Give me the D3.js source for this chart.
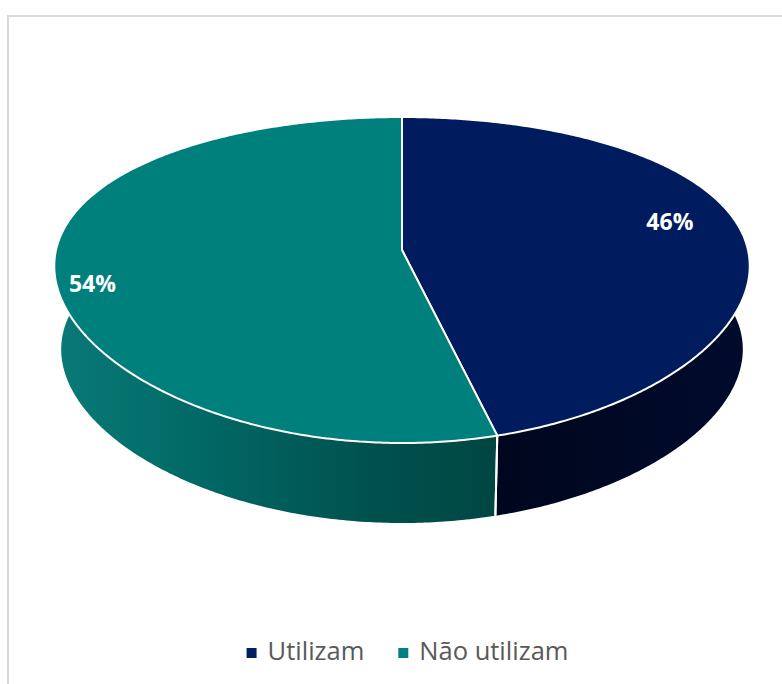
<!DOCTYPE html>
<html><head><meta charset="utf-8">
<script src="https://cdn.jsdelivr.net/npm/d3@7"></script>
<style>html,body{margin:0;padding:0;background:#fff;overflow:hidden;}</style>
</head><body>
<svg id="c" width="782" height="684"></svg>
<script>
// ---- data ----
const categories = ["Utilizam", "Não utilizam"];
const values = [46, 54];
const labelTexts = ["46%", "54%"];
const topColors = ["#001c5e", "#00807c"];
const legendColors = ["#002060", "#008080"];
const sideStops = [
  [["0", "#00061d"], ["1", "#000b2c"]],
  [["0", "#0a7a76"], ["0.3", "#016a67"], ["0.7", "#00524f"], ["1", "#004643"]]
];

const svg = d3.select("#c");
svg.append("rect").attr("x", 8).attr("y", 16).attr("width", 800).attr("height", 700)
  .attr("fill", "#fff").attr("stroke", "#d9d9d9").attr("stroke-width", 2);

// ---- 3D projection (perspective-like mapping of a unit disc) ----
const cx = 402;
const levels = [
  { cy: 280, rx: 352, ry: 163 },  // top face
  { cy: 363, rx: 345, ry: 160 }   // bottom rim
];
const a = -30 / 163, b = -0.1, sq = Math.sqrt(1 - a * a);
function proj(theta, r, level) {
  const u = r * Math.sin(theta), v = -r * Math.cos(theta);
  const up = u * sq / (1 + b * v), vp = (v + a) / (1 + a * v);
  const L = levels[level];
  return [cx + L.rx * up, L.cy + L.ry * vp];
}

const arcs = d3.pie().sort(null).value(d => d)(values);
const line = d3.line();
const defs = svg.append("defs");

function rim(s, e, level) {
  const n = Math.max(2, Math.ceil((e - s) / 0.01));
  return d3.range(n + 1).map(i => proj(s + (e - s) * i / n, 1, level));
}

// side gradients
arcs.forEach((d, i) => {
  const pts = rim(d.startAngle, d.endAngle, 0).concat(rim(d.startAngle, d.endAngle, 1));
  const front = pts.filter(p => p[1] > 250);
  const x1 = d3.min(front, p => p[0]), x2 = d3.max(front, p => p[0]);
  const g = defs.append("linearGradient").attr("id", "side" + i)
    .attr("gradientUnits", "userSpaceOnUse")
    .attr("x1", x1).attr("x2", x2).attr("y1", 0).attr("y2", 0);
  sideStops[i].forEach(s => g.append("stop").attr("offset", s[0]).attr("stop-color", s[1]));
});

// sides
arcs.forEach((d, i) => {
  const pts = rim(d.startAngle, d.endAngle, 0).concat(rim(d.startAngle, d.endAngle, 1).reverse());
  svg.append("path").attr("d", line(pts) + "Z").attr("fill", `url(#side${i})`);
});
// side seams (front only)
arcs.forEach(d => {
  [d.startAngle, d.endAngle].forEach(t => {
    if (-Math.cos(t) > 0.05) {
      const p0 = proj(t, 1, 0), p1 = proj(t, 1, 1);
      svg.append("line").attr("x1", p0[0]).attr("y1", p0[1]).attr("x2", p1[0]).attr("y2", p1[1])
        .attr("stroke", "#fff").attr("stroke-width", 2);
    }
  });
});
// top faces
arcs.forEach((d, i) => {
  const pts = [proj(0, 0, 0)].concat(rim(d.startAngle, d.endAngle, 0));
  svg.append("path").attr("d", line(pts) + "Z").attr("fill", topColors[i])
    .attr("stroke", "#fff").attr("stroke-width", 2).attr("stroke-linejoin", "round");
});

// data labels
const labelR = [0.81, 0.90];
const labelShift = -6 * Math.PI / 180;
arcs.forEach((d, i) => {
  const mid = (d.startAngle + d.endAngle) / 2 + labelShift;
  const p = proj(mid, labelR[i], 0);
  svg.append("text").attr("x", p[0]).attr("y", p[1]).attr("dy", "0.36em")
    .attr("text-anchor", "middle")
    .attr("font-family", "'Open Sans', sans-serif").attr("font-weight", "bold")
    .attr("font-size", 23).attr("fill", "#fff").text(labelTexts[i]);
});

// legend
const lg = svg.append("g");
const items = categories.map((c, i) => {
  const g = lg.append("g");
  g.append("rect").attr("width", 10).attr("height", 10).attr("y", -12).attr("fill", legendColors[i]);
  const t = g.append("text").attr("x", 21).attr("font-family", "'Open Sans', sans-serif")
    .attr("font-size", 25.5).attr("fill", "#595959").text(c);
  return { g, w: 21 + t.node().getComputedTextLength() };
});
const gap = 34;
const total = d3.sum(items, d => d.w) + gap * (items.length - 1);
let x0 = 407.5 - total / 2;
items.forEach(it => { it.g.attr("transform", `translate(${x0},660)`); x0 += it.w + gap; });
</script>
</body></html>
